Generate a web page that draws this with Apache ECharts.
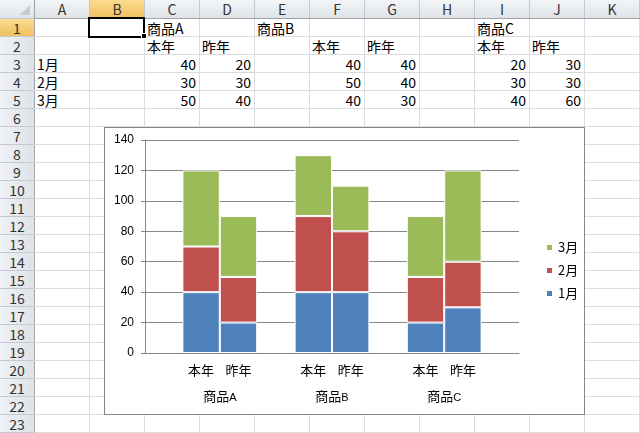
<!DOCTYPE html>
<html><head><meta charset="utf-8">
<script src="https://cdn.jsdelivr.net/npm/echarts@6/dist/echarts.min.js"></script>
<style>
body{margin:0;width:640px;height:433px;overflow:hidden;background:#fff;position:relative;font-family:"Noto Sans CJK JP",sans-serif;}
.d{position:absolute;box-sizing:border-box;}
.t{position:absolute;box-sizing:border-box;font-size:14px;line-height:18px;height:18px;white-space:nowrap;color:#000;font-family:"Noto Sans CJK JP",sans-serif;}
.h{position:absolute;box-sizing:border-box;font-size:14px;line-height:18px;height:18px;text-align:center;color:#333;font-family:"Noto Sans CJK JP",sans-serif;}
</style></head><body>
<div id="sheet"></div>
<div id="chart" style="position:absolute;left:104px;top:127px;width:479px;height:286px;border:1px solid #868686;background:#fff;"></div>
<script>
// ---- data ----
const months = ['1月', '2月', '3月'];
const products = ['商品A', '商品B', '商品C'];
const years = ['本年', '昨年'];
// order: A本年, A昨年, B本年, B昨年, C本年, C昨年
const jan = [40, 20, 40, 40, 20, 30];
const feb = [30, 30, 50, 40, 30, 30];
const mar = [50, 40, 40, 30, 40, 60];
const colLetters = ['A','B','C','D','E','F','G','H','I','J','K'];
const yTicks = [0, 20, 40, 60, 80, 100, 120, 140];

// ---- spreadsheet ----
const sheet = document.getElementById('sheet');
const X0 = 34, CW = 55, RH = 18, NROWS = 23;
function el(cls, css, txt) {
  const e = document.createElement('div');
  e.className = cls; e.style.cssText = css;
  if (txt !== undefined) e.textContent = txt;
  sheet.appendChild(e); return e;
}
// header backgrounds
el('d', 'left:0;top:0;width:640px;height:18px;background:linear-gradient(#f3f5f8,#dfe3e8);');
el('d', 'left:0;top:18px;width:34px;height:415px;background:linear-gradient(90deg,#eef1f5,#dfe3e8);');
// selected column B header and row 1 header
el('d', `left:${X0+CW+1}px;top:0;width:${CW-1}px;height:18px;background:linear-gradient(#f9dc8f,#f1c15f);`);
el('d', `left:0;top:19px;width:34px;height:17px;background:linear-gradient(#f9dc8f,#f1c15f);`);
// corner triangle
el('d', 'left:20px;top:5px;width:0;height:0;border-left:10px solid transparent;border-bottom:10px solid #c6cbd2;');
// gridlines
for (let i = 0; i <= 11; i++) {
  const x = X0 + CW * i;
  el('d', `left:${x}px;top:18px;width:1px;height:415px;background:${i===0?'#9ea3aa':'#dadcdd'};`);
  el('d', `left:${x}px;top:0;width:1px;height:18px;background:${i===0?'#9ea3aa':'#c5c9cf'};`);
}
for (let r = 1; r <= NROWS + 1; r++) {
  const y = RH * r;
  el('d', `left:34px;top:${y}px;width:606px;height:1px;background:${r===1?'#9ea3aa':'#dadcdd'};`);
  el('d', `left:0;top:${y}px;width:34px;height:1px;background:#c5c9cf;`);
}
// header labels
colLetters.forEach((c, i) => el('h', `left:${X0+CW*i+1}px;top:0;width:${CW-1}px;`, c));
for (let r = 1; r <= NROWS; r++) el('h', `left:0;top:${RH*r+1}px;width:34px;`, String(r));
// cell text
function cell(col, row, txt, right) {
  const left = X0 + CW * col + 1;
  el('t', `left:${left}px;top:${RH*row+1}px;width:${CW-1}px;padding:0 3px 0 2px;text-align:${right?'right':'left'};`, txt);
}
const productCols = [2, 4, 8];
const yearCols = [2, 3, 5, 6, 8, 9];
products.forEach((p, i) => cell(productCols[i], 1, p));
yearCols.forEach((c, i) => cell(c, 2, years[i % 2]));
months.forEach((m, i) => cell(0, 3 + i, m));
[jan, feb, mar].forEach((arr, r) => arr.forEach((v, i) => cell(yearCols[i], 3 + r, String(v), true)));
// selected cell B1
el('d', `left:88px;top:17px;width:57px;height:21px;border:2px solid #000;`);
el('d', `left:141px;top:33px;width:6px;height:6px;background:#000;border:1px solid #fff;`);

// ---- chart ----
function slots(arr) { return ['-', arr[0], arr[1], '-', arr[2], arr[3], '-', arr[4], arr[5], '-']; }
const cats = ['', years[0], years[1], '', years[0], years[1], '', years[0], years[1], ''];
const productCenters = {2: products[0], 5: products[1], 8: products[2]};
const colors = ['#4f81bd', '#c0504d', '#9bbb59'];
const chart = echarts.init(document.getElementById('chart'), null, {renderer: 'canvas'});
const vals = [jan, feb, mar];
chart.setOption({
  animation: false,
  grid: {left: 40, right: 65, top: 12, bottom: 61},
  legend: {
    orient: 'vertical', left: 435, top: 108,
    data: [months[2], months[1], months[0]],
    itemWidth: 7, itemHeight: 7, itemGap: 10,
    icon: 'rect',
    textStyle: {fontSize: 13, color: '#000', fontFamily: 'Noto Sans CJK JP'}
  },
  xAxis: [{
    type: 'category', data: cats,
    axisLine: {lineStyle: {color: '#868686', width: 1}},
    axisTick: {show: false},
    axisLabel: {interval: 0, margin: 11, fontSize: 13, color: '#000', fontFamily: 'Noto Sans CJK JP'}
  }, {
    type: 'value', min: 0, max: 10, interval: 1, position: 'bottom',
    axisLine: {show: false}, axisTick: {show: false}, splitLine: {show: false},
    axisLabel: {
      margin: 37, showMinLabel: true, showMaxLabel: true,
      formatter: v => {
        const p = productCenters[v];
        if (!p) return '';
        return '{c|' + p.slice(0, 2) + '}{l|' + p.slice(2) + '}';
      },
      rich: {
        c: {fontSize: 13, color: '#000', fontFamily: 'Noto Sans CJK JP'},
        l: {fontSize: 11, color: '#000', fontFamily: 'Liberation Sans', padding: [2, 0, 0, 0]}
      }
    }
  }],
  yAxis: {
    type: 'value', min: 0, max: 140, interval: 20,
    axisLine: {show: true, lineStyle: {color: '#868686'}},
    axisTick: {show: true, length: 4, lineStyle: {color: '#868686'}},
    splitLine: {lineStyle: {color: '#868686', width: 1}},
    axisLabel: {margin: 11, fontSize: 12, color: '#000', fontFamily: 'Liberation Sans'}
  },
  series: months.map((m, i) => ({
    name: m, type: 'bar', stack: 'total', xAxisIndex: 0,
    barCategoryGap: '0%',
    data: slots(vals[i]),
    itemStyle: {color: colors[i], borderColor: '#fff', borderWidth: 1}
  }))
});
</script>
</body></html>
